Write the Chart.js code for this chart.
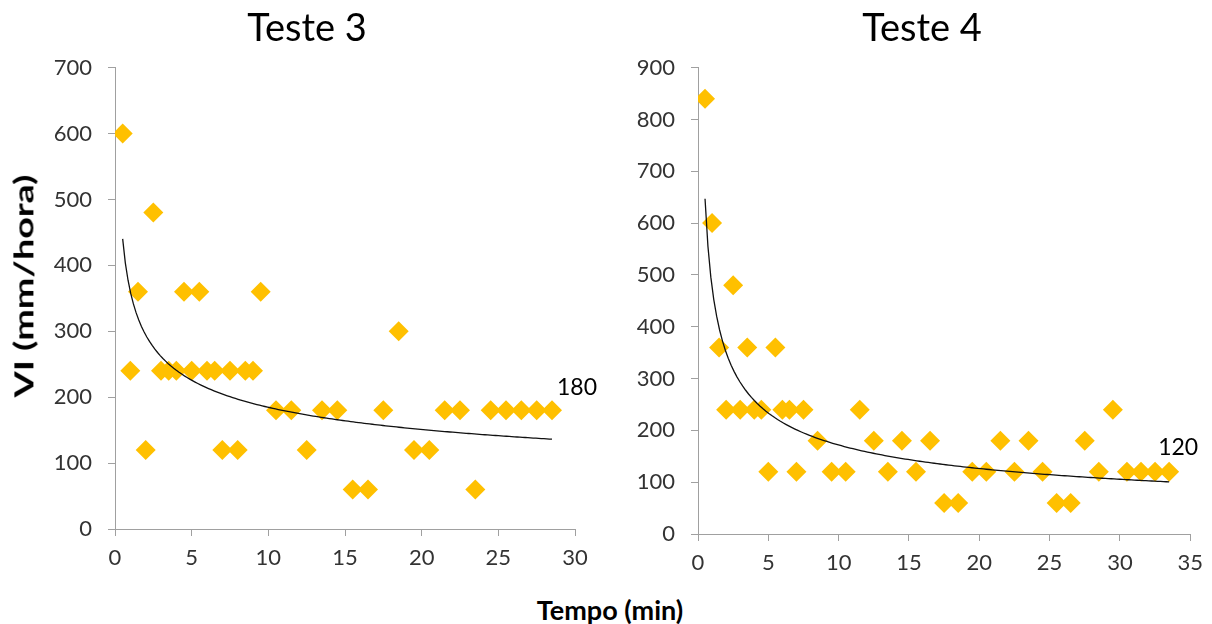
<!DOCTYPE html>
<html>
<head>
<meta http-equiv="Content-Type" content="text/html; charset=UTF-8" />
<title>Teste 3 / Teste 4</title>
<style>
body { margin: 0; background: #fff; }
#wrap { position: relative; width: 1212px; height: 624px; overflow: hidden; font-family: Lato, sans-serif; }
#c3 { position: absolute; left: 0; top: 0; }
#c4 { position: absolute; left: 630px; top: 0; }
.ytitle { position: absolute; left: 24px; top: 286px; font-weight: bold; font-size: 26px; line-height: 1.2; white-space: nowrap; color: #000;
  transform: translate(-50%, -50%) rotate(-90deg) scaleX(1.45); }
.xtitle { position: absolute; left: 610px; top: 610px; font-weight: bold; font-size: 27px; line-height: 1.2; white-space: nowrap; color: #000;
  transform: translate(-50%, -50%); }
</style>
</head>
<body>
<div id="wrap">
	<canvas id="c3" width="614" height="590"></canvas>
	<canvas id="c4" width="582" height="590"></canvas>
	<div class="ytitle">VI (mm/hora)</div>
	<div class="xtitle">Tempo (min)</div>
</div>
<script src="https://cdn.jsdelivr.net/npm/chart.js@4.4.0/dist/chart.umd.min.js"></script>
<script>
// Teste 3
var tempo3 = [0.5,1,1.5,2,2.5,3,3.5,4,4.5,5,5.5,6,6.5,7,7.5,8,8.5,9,9.5,
	10.5,11.5,12.5,13.5,14.5,15.5,16.5,17.5,18.5,19.5,20.5,21.5,22.5,23.5,24.5,25.5,26.5,27.5,28.5];
var vi3 = [600,240,360,120,480,240,240,240,360,240,360,240,240,120,240,120,240,240,360,
	180,180,120,180,180,60,60,180,300,120,120,180,180,60,180,180,180,180,180];
var xTicks3 = [0,5,10,15,20,25,30];
var yTicks3 = [0,100,200,300,400,500,600,700];

// Teste 4
var tempo4 = [0.5,1,1.5,2,2.5,3,3.5,4,4.5,5,5.5,6,6.5,7,7.5,
	8.5,9.5,10.5,11.5,12.5,13.5,14.5,15.5,16.5,17.5,18.5,19.5,20.5,21.5,22.5,23.5,24.5,25.5,26.5,27.5,28.5,29.5,30.5,31.5,32.5,33.5];
var vi4 = [840,600,360,240,480,240,360,240,240,120,360,240,240,120,240,
	180,120,120,240,180,120,180,120,180,60,60,120,120,180,120,180,120,60,60,180,120,240,120,120,120,120];
var xTicks4 = [0,5,10,15,20,25,30,35];
var yTicks4 = [0,100,200,300,400,500,600,700,800,900];

var GOLD = '#FFC000';
var AXIS = '#a0a0a0';

// power trendline, least squares on ln(x), ln(y) like the spreadsheet does
function powerFit(xs, ys) {
	var n = xs.length, sx = 0, sy = 0, sxx = 0, sxy = 0;
	for (var i = 0; i < n; i++) {
		var lx = Math.log(xs[i]), ly = Math.log(ys[i]);
		sx += lx; sy += ly; sxx += lx * lx; sxy += lx * ly;
	}
	var b = (n * sxy - sx * sy) / (n * sxx - sx * sx);
	var a = Math.exp((sy - b * sx) / n);
	return { a: a, b: b };
}

function trendPoints(xs, ys) {
	var f = powerFit(xs, ys);
	var x0 = xs[0], x1 = xs[xs.length - 1], pts = [];
	for (var i = 0; i <= 160; i++) {
		var x = x0 + (x1 - x0) * i / 160;
		pts.push({ x: x, y: f.a * Math.pow(x, f.b) });
	}
	return pts;
}

// value label next to the last point
var lastLabel = {
	id: 'lastLabel',
	afterDatasetsDraw: function(chart, args, opts) {
		var meta = chart.getDatasetMeta(1);
		var el = meta.data[meta.data.length - 1];
		var ds = chart.data.datasets[1].data;
		var ctx = chart.ctx;
		ctx.save();
		ctx.font = '23px Lato';
		ctx.fillStyle = '#000';
		ctx.textAlign = 'left';
		ctx.textBaseline = 'middle';
		ctx.fillText(String(ds[ds.length - 1].y), el.x + opts.dx, el.y + opts.dy);
		ctx.restore();
	}
};

// the titles sit a bit right of the canvas centre
var titleShift = {
	id: 'titleShift',
	afterLayout: function(chart, args, opts) {
		if (chart.titleBlock) {
			chart.titleBlock.left += opts.dx;
			chart.titleBlock.right += opts.dx;
		}
	}
};

function makeChart(id, title, xs, ys, xTicks, yTicks, yWidth, xHeight, padRight, shift, dx, dy) {
	var points = xs.map(function(x, i) { return { x: x, y: ys[i] }; });
	var tickFont = { family: 'Lato', size: 22 };
	new Chart(document.getElementById(id), {
		type: 'scatter',
		data: {
			datasets: [{
				data: trendPoints(xs, ys),
				showLine: true,
				borderColor: '#111',
				borderWidth: 1.3,
				pointRadius: 0,
				fill: false,
				order: 0
			}, {
				data: points,
				pointStyle: 'rectRot',
				pointRadius: 10,
				pointBackgroundColor: GOLD,
				pointBorderWidth: 0,
				borderColor: GOLD,
				order: 1
			}]
		},
		options: {
			responsive: false,
			animation: false,
			events: [],
			layout: { padding: { left: 0, right: padRight, top: 0, bottom: 0 } },
			plugins: {
				legend: { display: false },
				tooltip: { enabled: false },
				title: {
					display: true,
					text: title,
					color: '#000',
					font: { family: 'Lato', size: 38, weight: 'normal' },
					padding: { top: 6, bottom: 16 }
				},
				titleShift: { dx: shift },
				lastLabel: { dx: dx, dy: dy }
			},
			scales: {
				x: {
					type: 'linear',
					min: xTicks[0],
					max: xTicks[xTicks.length - 1],
					afterBuildTicks: function(s) { s.ticks = xTicks.map(function(v) { return { value: v }; }); },
					afterFit: function(s) { s.height = xHeight; },
					grid: { drawOnChartArea: false, drawTicks: true, tickLength: 7, color: AXIS },
					border: { color: AXIS, width: 1 },
					ticks: { font: tickFont, color: '#333', padding: 9, maxRotation: 0, autoSkip: false }
				},
				y: {
					type: 'linear',
					min: yTicks[0],
					max: yTicks[yTicks.length - 1],
					afterBuildTicks: function(s) { s.ticks = yTicks.map(function(v) { return { value: v }; }); },
					afterFit: function(s) { s.width = yWidth; },
					grid: { drawOnChartArea: false, drawTicks: true, tickLength: 7, color: AXIS },
					border: { color: AXIS, width: 1 },
					ticks: { font: tickFont, color: '#333', padding: 16, autoSkip: false }
				}
			}
		},
		plugins: [titleShift, lastLabel]
	});
}

makeChart('c3', 'Teste 3', tempo3, vi3, xTicks3, yTicks3, 115, 61, 39, 19.5, 5, -23);
makeChart('c4', 'Teste 4', tempo4, vi4, xTicks4, yTicks4, 68, 56, 15, 8.5, -11, -24);
</script>
</body>
</html>
